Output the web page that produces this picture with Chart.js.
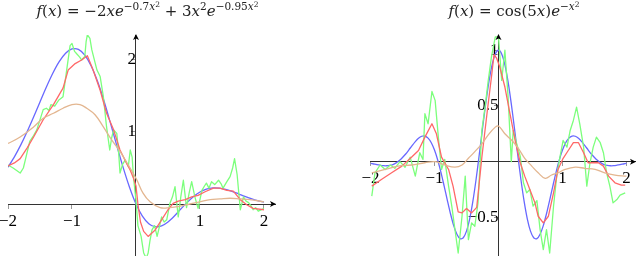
<!DOCTYPE html>
<html><head><meta charset="utf-8">
<script src="https://cdn.jsdelivr.net/npm/chart.js@4/dist/chart.umd.min.js"></script>
<style>
html,body{margin:0;padding:0;background:#fff;overflow:hidden;width:640px;height:256px;}
canvas{position:absolute;top:0;}
#c1{left:-40px;} #c2{left:280px;}
</style></head><body>
<canvas id="c1" width="360" height="300" style="width:360px;height:300px"></canvas>
<canvas id="c2" width="380" height="300" style="width:380px;height:300px"></canvas>
<script>
// ---------- LEFT PANEL DATA ----------
const leftTrueX = [-2.0,-1.9,-1.8,-1.7,-1.6,-1.5,-1.4,-1.3,-1.2,-1.1,-1.0,-0.9,-0.8,-0.7,-0.6,-0.5,-0.4,-0.3,-0.2,-0.1,0,0.1,0.2,0.3,0.4,0.5,0.6,0.7,0.8,0.9,1.0,1.1,1.2,1.3,1.4,1.5,1.6,1.7,1.8,1.9,2.0];
const leftTrueY = [0.511,0.655,0.821,1.007,1.208,1.418,1.624,1.815,1.976,2.093,2.153,2.147,2.067,1.916,1.700,1.431,1.127,0.811,0.505,0.229,0,-0.169,-0.273,-0.315,-0.303,-0.249,-0.166,-0.070,0.023,0.105,0.167,0.207,0.224,0.221,0.204,0.176,0.142,0.107,0.075,0.047,0.025];
const leftNoisyX = [-2.00,-1.92,-1.81,-1.76,-1.73,-1.66,-1.60,-1.55,-1.45,-1.40,-1.36,-1.33,-1.27,-1.21,-1.14,-1.08,-1.03,-1.00,-0.96,-0.93,-0.88,-0.85,-0.80,-0.78,-0.76,-0.72,-0.69,-0.61,-0.56,-0.51,-0.46,-0.41,-0.38,-0.35,-0.30,-0.27,-0.25,-0.21,-0.17,-0.12,-0.09,-0.06,-0.04,0.00,0.03,0.08,0.12,0.16,0.19,0.22,0.25,0.29,0.33,0.37,0.40,0.44,0.48,0.53,0.57,0.61,0.66,0.70,0.74,0.79,0.83,0.87,0.92,0.97,1.03,1.07,1.10,1.14,1.18,1.23,1.29,1.33,1.36,1.42,1.47,1.51,1.54,1.58,1.63,1.68,1.72,1.76,1.80,1.83,1.87,1.91,1.96,2.00];
const leftNoisyY = [0.54,0.50,0.43,0.50,0.61,0.87,0.95,1.03,1.31,1.33,1.30,1.38,1.36,1.44,1.49,1.88,2.20,2.23,2.12,2.09,2.04,2.00,2.05,2.25,2.35,2.30,2.14,1.86,1.77,1.49,1.07,0.75,0.92,1.03,0.98,0.70,0.43,0.55,0.61,0.52,0.75,0.65,0.38,0.05,-0.30,-0.45,-0.68,-0.75,-0.68,-0.50,-0.36,-0.30,-0.45,-0.30,-0.18,-0.25,-0.22,0.01,0.10,0.24,-0.18,0.10,0.33,-0.05,0.15,0.31,0.10,-0.06,0.19,0.25,0.29,0.22,0.31,0.27,0.33,0.28,0.22,0.31,0.38,0.50,0.63,0.41,-0.08,0.10,0.04,0.02,-0.03,-0.08,-0.05,-0.10,-0.08,-0.06];
const leftSmoothX = [-2.00,-1.90,-1.81,-1.70,-1.60,-1.45,-1.29,-1.14,-1.06,-0.95,-0.85,-0.76,-0.67,-0.56,-0.46,-0.35,-0.25,-0.15,-0.09,-0.04,0.00,0.03,0.07,0.12,0.19,0.30,0.40,0.50,0.58,0.66,0.77,0.87,0.97,1.08,1.21,1.31,1.42,1.52,1.63,1.73,1.83,2.00];
const leftSmoothY = [0.53,0.57,0.63,0.78,0.93,1.17,1.38,1.61,1.86,1.95,2.00,2.06,1.86,1.58,1.26,1.03,0.75,0.57,0.47,0.36,0.25,0.00,-0.25,-0.38,-0.45,-0.36,-0.22,-0.08,0.01,0.04,0.06,0.10,0.12,0.17,0.22,0.22,0.19,0.18,0.06,-0.01,-0.06,-0.08];
const leftWideX = [-2.00,-1.81,-1.60,-1.45,-1.29,-1.14,-1.00,-0.875,-0.77,-0.64,-0.51,-0.38,-0.25,-0.12,0.01,0.11,0.22,0.375,0.53,0.69,0.84,1.00,1.16,1.31,1.47,1.63,1.78,2.00];
const leftWideY = [0.84,0.93,1.07,1.19,1.26,1.33,1.38,1.38,1.33,1.24,1.07,0.89,0.73,0.54,0.34,0.15,0.03,-0.05,-0.05,-0.03,0.00,0.03,0.06,0.07,0.08,0.07,0.06,0.03];
const leftXTicks = [-2,-1,1,2];
const leftYTicks = [1,2];

// ---------- RIGHT PANEL DATA ----------
const rightTrueX = [-2.00,-1.95,-1.90,-1.85,-1.80,-1.75,-1.70,-1.65,-1.60,-1.55,-1.50,-1.45,-1.40,-1.35,-1.30,-1.25,-1.20,-1.15,-1.10,-1.05,-1.00,-0.95,-0.90,-0.85,-0.80,-0.75,-0.70,-0.65,-0.60,-0.55,-0.50,-0.45,-0.40,-0.35,-0.30,-0.25,-0.20,-0.15,-0.10,-0.05,0.00,0.05,0.10,0.15,0.20,0.25,0.30,0.35,0.40,0.45,0.50,0.55,0.60,0.65,0.70,0.75,0.80,0.85,0.90,0.95,1.00,1.05,1.10,1.15,1.20,1.25,1.30,1.35,1.40,1.45,1.50,1.55,1.60,1.65,1.70,1.75,1.80,1.85,1.90,1.95,2.00];
const rightTrueY = [-0.015,-0.021,-0.027,-0.032,-0.036,-0.037,-0.034,-0.026,-0.011,0.010,0.037,0.069,0.106,0.144,0.180,0.210,0.228,0.230,0.211,0.170,0.104,0.015,-0.094,-0.217,-0.345,-0.468,-0.574,-0.651,-0.691,-0.683,-0.624,-0.513,-0.355,-0.158,0.065,0.296,0.519,0.716,0.869,0.967,1.000,0.967,0.869,0.716,0.519,0.296,0.065,-0.158,-0.355,-0.513,-0.624,-0.683,-0.691,-0.651,-0.574,-0.468,-0.345,-0.217,-0.094,0.015,0.104,0.170,0.211,0.230,0.228,0.210,0.180,0.144,0.106,0.069,0.037,0.010,-0.011,-0.026,-0.034,-0.037,-0.036,-0.032,-0.027,-0.021,-0.015];
const rightNoisyX = [-1.98,-1.93,-1.85,-1.77,-1.69,-1.62,-1.54,-1.46,-1.38,-1.30,-1.23,-1.18,-1.15,-1.10,-1.04,-0.99,-0.94,-0.89,-0.84,-0.78,-0.73,-0.68,-0.63,-0.57,-0.52,-0.47,-0.42,-0.37,-0.32,-0.26,-0.21,-0.16,-0.11,-0.05,0.00,0.05,0.10,0.15,0.20,0.23,0.28,0.34,0.39,0.44,0.49,0.54,0.60,0.65,0.70,0.75,0.80,0.86,0.91,0.96,1.01,1.07,1.12,1.17,1.22,1.27,1.33,1.38,1.43,1.48,1.53,1.59,1.64,1.69,1.74,1.79,1.85,1.90,1.98];
const rightNoisyY = [-0.31,-0.10,-0.03,-0.07,-0.03,-0.06,0.00,-0.05,0.04,-0.13,0.08,0.02,0.43,0.34,0.63,0.55,0.22,-0.07,0.02,-0.22,-0.40,-0.61,-0.82,-0.49,-0.13,-0.70,-0.55,-0.58,-0.37,0.28,0.49,0.73,0.94,1.12,1.12,0.73,1.00,0.58,0.00,0.28,0.17,0.05,-0.19,-0.28,-0.25,-0.40,-0.35,-0.61,-0.79,-0.61,-0.82,-0.40,-0.13,0.04,0.19,0.13,0.28,0.37,0.49,0.34,0.13,-0.22,-0.01,0.13,0.22,0.17,0.08,-0.10,-0.22,-0.37,-0.34,-0.30,-0.28];
const rightSmoothX = [-1.98,-1.83,-1.67,-1.51,-1.36,-1.25,-1.15,-1.04,-0.97,-0.89,-0.78,-0.71,-0.63,-0.57,-0.50,-0.42,-0.34,-0.26,-0.18,-0.11,-0.07,-0.03,0.02,0.10,0.18,0.26,0.34,0.41,0.49,0.57,0.62,0.70,0.78,0.86,0.93,1.01,1.09,1.17,1.25,1.33,1.40,1.48,1.56,1.64,1.72,1.82,1.92,1.98];
const rightSmoothY = [-0.22,-0.16,-0.10,-0.04,0.04,0.10,0.22,0.34,0.25,0.04,-0.07,-0.22,-0.45,-0.46,-0.42,-0.46,-0.41,0.04,0.43,0.76,0.96,0.93,0.85,0.67,0.43,0.19,-0.01,-0.13,-0.25,-0.37,-0.49,-0.55,-0.49,-0.28,-0.07,0.03,0.10,0.17,0.17,0.08,-0.01,-0.01,-0.01,-0.04,-0.13,-0.19,-0.21,-0.21];
const rightWideX = [-1.98,-1.77,-1.57,-1.36,-1.15,-0.99,-0.84,-0.68,-0.57,-0.47,-0.37,-0.26,-0.16,-0.05,0.00,0.10,0.21,0.31,0.41,0.52,0.62,0.73,0.83,0.93,1.04,1.20,1.35,1.51,1.66,1.82,2.00];
const rightWideY = [-0.10,-0.07,-0.04,-0.03,-0.01,0.00,-0.03,-0.05,-0.03,0.03,0.09,0.16,0.24,0.31,0.32,0.25,0.19,0.12,0.03,-0.04,-0.10,-0.15,-0.12,-0.10,-0.07,-0.05,-0.06,-0.07,-0.10,-0.12,-0.13];
const rightXTicks = [-2,-1,1,2];
const rightYTicks = [-0.5,0.5,1];

// ---------- TITLES ----------
const leftTitle = [['f','i'],['(','n'],['x','i'],[') = \u22122','n'],['xe','i'],['\u22120.7','sn'],['x','si'],['2','ss'],[' + 3','n'],['x','i'],['2','sn'],['e','i'],['\u22120.95','sn'],['x','si'],['2','ss']];
const rightTitle = [['f','i'],['(','n'],['x','i'],[') = cos(5','n'],['x','i'],[')','n'],['e','i'],['\u2212','sn'],['x','si'],['2','ss']];

const SERIF = "'Liberation Serif','DejaVu Serif',serif";
const TSERIF = "'DejaVu Serif','Liberation Serif',serif";
const STY = {
  n:{f:'15px '+TSERIF, dy:0},
  i:{f:'italic 15px '+TSERIF, dy:0},
  sn:{f:'10.5px '+TSERIF, dy:-6},
  si:{f:'italic 10.5px '+TSERIF, dy:-6},
  ss:{f:'7.5px '+TSERIF, dy:-9.5}
};

const decor = {
  id:'decor',
  afterDraw(chart, args, opts){
    const ctx = chart.ctx;
    const xs = chart.scales.x, ys = chart.scales.y;
    const x0 = xs.getPixelForValue(0), y0 = ys.getPixelForValue(0);
    ctx.save();
    ctx.fillStyle = '#000';
    const r = xs.right, t = ys.top;
    ctx.beginPath();
    ctx.moveTo(r+1, y0); ctx.lineTo(r-5, y0-3); ctx.lineTo(r-3.5, y0); ctx.lineTo(r-5, y0+3); ctx.closePath(); ctx.fill();
    ctx.beginPath();
    ctx.moveTo(x0, t-1); ctx.lineTo(x0-3, t+5); ctx.lineTo(x0, t+3.5); ctx.lineTo(x0+3, t+5); ctx.closePath(); ctx.fill();
    // title
    const segs = opts.title;
    let w = 0;
    segs.forEach(s => { ctx.font = STY[s[1]].f; w += ctx.measureText(s[0]).width; });
    let x = opts.cx - w/2;
    ctx.textBaseline = 'alphabetic';
    ctx.textAlign = 'left';
    ctx.fillStyle = '#222';
    segs.forEach(s => { const st = STY[s[1]]; ctx.font = st.f; ctx.fillText(s[0], x, opts.cy + st.dy); x += ctx.measureText(s[0]).width; });
    ctx.restore();
  }
};

function pts(xs, ys){ return xs.map((x,i)=>({x:x, y:ys[i]})); }
function ds(xs, ys, color, order, tension){
  return {data:pts(xs,ys), borderColor:color, borderWidth:1.3, pointRadius:0, tension:tension, order:order, fill:false, borderJoinStyle:'round'};
}
function fmt(v){ return (v<0?'\u2212':'') + Math.abs(v); }

function makeChart(id, c){
  return new Chart(document.getElementById(id), {
    type:'line',
    data:{datasets:[
      ds(c.tx, c.ty, '#6868ff', 3, 0.3),
      ds(c.nx, c.ny, '#7cff7c', 2, 0),
      ds(c.sx, c.sy, '#ff6868', 1, 0),
      ds(c.wx, c.wy, '#e3b690', 0, 0.4)
    ]},
    options:{
      responsive:false, animation:false, devicePixelRatio:1,
      layout:{padding:c.pad},
      plugins:{legend:{display:false}, tooltip:{enabled:false}, decor:{title:c.title, cx:c.cx, cy:16}},
      scales:{
        x:{type:'linear', min:c.xmin, max:c.xmax, position:{y:0},
           afterBuildTicks:s=>{ s.ticks = c.xt.map(v=>({value:v})); },
           grid:{drawOnChartArea:false, tickLength:4, color:'#999'},
           border:{color:'#333', width:1},
           ticks:{padding:3, color:'#000', autoSkip:false, maxRotation:0, font:{family:SERIF, size:17}, callback:fmt}},
        y:{type:'linear', min:c.ymin, max:c.ymax, position:{x:0},
           afterBuildTicks:s=>{ s.ticks = c.yt.map(v=>({value:v})); },
           grid:{drawOnChartArea:false, tickLength:4, color:'#999'},
           border:{color:'#333', width:1},
           ticks:{padding:6, color:'#000', autoSkip:false, font:{family:SERIF, size:17}, callback:fmt}}
      }
    },
    plugins:[decor]
  });
}

makeChart('c1', {tx:leftTrueX, ty:leftTrueY, nx:leftNoisyX, ny:leftNoisyY, sx:leftSmoothX, sy:leftSmoothY, wx:leftWideX, wy:leftWideY,
  xt:leftXTicks, yt:leftYTicks, xmin:-2, xmax:2.172, ymin:-0.722, ymax:2.347,
  pad:{left:48, right:45, top:35, bottom:44}, title:leftTitle, cx:187.5});
makeChart('c2', {tx:rightTrueX, ty:rightTrueY, nx:rightNoisyX, ny:rightNoisyY, sx:rightSmoothX, sy:rightSmoothY, wx:rightWideX, wy:rightWideY,
  xt:rightXTicks, yt:rightYTicks, xmin:-2, xmax:2.133, ymin:-0.847, ymax:1.137,
  pad:{left:90.5, right:25, top:35, bottom:44}, title:rightTitle, cx:234});
</script>
</body></html>
